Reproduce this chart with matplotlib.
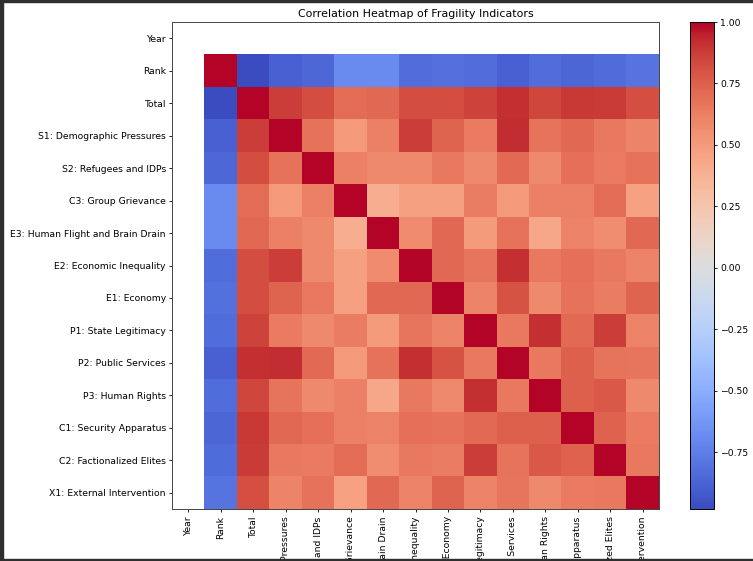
import numpy as np
import matplotlib
matplotlib.use("Agg")
import matplotlib.pyplot as plt
from matplotlib.patches import Rectangle

labels = ["Year", "Rank", "Total", "S1: Demographic Pressures", "S2: Refugees and IDPs",
          "C3: Group Grievance", "E3: Human Flight and Brain Drain", "E2: Economic Inequality",
          "E1: Economy", "P1: State Legitimacy", "P2: Public Services", "P3: Human Rights",
          "C1: Security Apparatus", "C2: Factionalized Elites", "X1: External Intervention"]

# Upper-triangle correlations: each list = correlation of that indicator with the indicators after it
rank_r  = [-0.98, -0.88, -0.85, -0.68, -0.68, -0.83, -0.81, -0.83, -0.88, -0.83, -0.86, -0.84, -0.80]
total_r = [0.87, 0.82, 0.70, 0.72, 0.82, 0.82, 0.86, 0.91, 0.84, 0.89, 0.88, 0.81]
s1_r    = [0.68, 0.50, 0.62, 0.87, 0.73, 0.64, 0.92, 0.67, 0.72, 0.65, 0.60]
s2_r    = [0.62, 0.58, 0.58, 0.65, 0.58, 0.71, 0.58, 0.69, 0.64, 0.68]
c3_r    = [0.40, 0.47, 0.47, 0.63, 0.50, 0.62, 0.62, 0.70, 0.46]
e3_r    = [0.57, 0.72, 0.49, 0.68, 0.43, 0.61, 0.56, 0.72]
e2_r    = [0.72, 0.66, 0.91, 0.65, 0.69, 0.65, 0.61]
e1_r    = [0.61, 0.80, 0.58, 0.68, 0.63, 0.73]
p1_r    = [0.65, 0.91, 0.71, 0.87, 0.61]
p2_r    = [0.65, 0.75, 0.67, 0.66]
p3_r    = [0.75, 0.78, 0.58]
c1_r    = [0.74, 0.64]
c2_r    = [0.65]
upper_rows = [rank_r, total_r, s1_r, s2_r, c3_r, e3_r, e2_r, e1_r, p1_r, p2_r, p3_r, c1_r, c2_r]

n = len(labels)
corr = np.full((n, n), np.nan)
for i in range(1, n):
    corr[i, i] = 1.0
for k, row in enumerate(upper_rows):
    i = k + 1
    for j, v in enumerate(row):
        corr[i, i + 1 + j] = v
        corr[i + 1 + j, i] = v

W, H = 753, 561
fig = plt.figure(figsize=(W / 100, H / 100), dpi=100)
fs = 6.7

ax = fig.add_axes([172 / W, 1 - 509 / H, 487 / W, 487 / H])
cmap = plt.get_cmap("coolwarm").copy()
cmap.set_bad("white")
vmin, vmax = np.nanmin(corr), np.nanmax(corr)
im = ax.imshow(np.ma.masked_invalid(corr), cmap=cmap, vmin=vmin, vmax=vmax,
               interpolation="nearest", aspect="auto")
ax.set_xticks(range(n))
ax.set_xticklabels(labels, rotation=90, fontsize=fs)
ax.set_yticks(range(n))
ax.set_yticklabels(labels, fontsize=fs)
ax.tick_params(axis="y", length=2.4, width=0.6, pad=2.0)
ax.tick_params(axis="x", length=2.4, width=0.6, pad=2.8)
for sp in ax.spines.values():
    sp.set_linewidth(0.7)
    sp.set_color("#444444")
ax.set_title("Correlation Heatmap of Fragility Indicators", fontsize=7.9, pad=3.5)

cax = fig.add_axes([690 / W, 1 - 509 / H, 24 / W, 487 / H])
cb = fig.colorbar(im, cax=cax, ticks=[-0.75, -0.5, -0.25, 0, 0.25, 0.5, 0.75, 1.0])
cb.ax.set_yticklabels(["\u22120.75", "\u22120.50", "\u22120.25", "0.00", "0.25", "0.50", "0.75", "1.00"])
cb.ax.tick_params(labelsize=fs, length=2.4, width=0.6, pad=2.0)
cb.outline.set_linewidth(0.7)

# screenshot frame
dark = "#2f2f2f"
fig.patches.append(Rectangle((0, 0), 3 / W, 1, transform=fig.transFigure, color=dark, zorder=10))
fig.patches.append(Rectangle((0, 1 - 2 / H), 1, 2 / H, transform=fig.transFigure, color=dark, zorder=10))
fig.patches.append(Rectangle((0, 0), 1, 2.5 / H, transform=fig.transFigure, color=dark, zorder=10))

fig.savefig("out.png", dpi=100)
